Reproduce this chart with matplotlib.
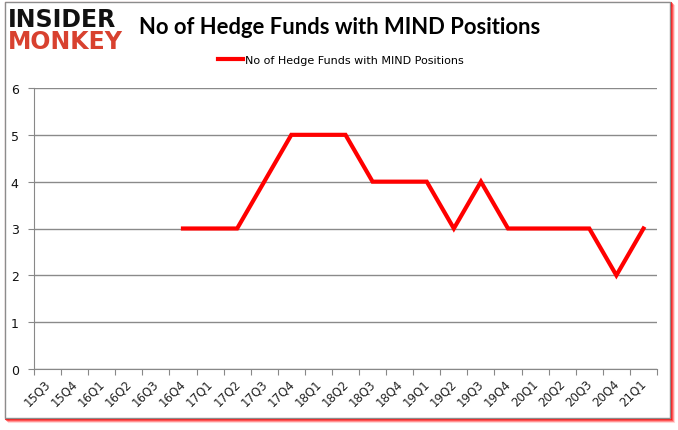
import numpy as np
import matplotlib.pyplot as plt
import matplotlib.transforms as mtransforms
from matplotlib.patches import Rectangle

quarters = ['15Q3', '15Q4', '16Q1', '16Q2', '16Q3', '16Q4', '17Q1', '17Q2',
            '17Q3', '17Q4', '18Q1', '18Q2', '18Q3', '18Q4', '19Q1', '19Q2',
            '19Q3', '19Q4', '20Q1', '20Q2', '20Q3', '20Q4', '21Q1']
# no data before 16Q4
hedge_funds = [None, None, None, None, None, 3, 3, 3,
               4, 5, 5, 5, 4, 4, 4, 3,
               4, 3, 3, 3, 3, 2, 3]
series_name = 'No of Hedge Funds with MIND Positions'
chart_title = 'No of Hedge Funds with MIND Positions'

W, H = 678, 431
fig = plt.figure(figsize=(W / 100, H / 100), dpi=100)

# frame with red drop shadow
for i, a in enumerate([0.15, 0.3, 0.5, 0.8]):
    off = 4 - i
    fig.patches.append(Rectangle(((5 + off) / W, 1 - (419 + off) / H),
                                 (665) / W, (416) / H,
                                 transform=fig.transFigure, facecolor='none',
                                 edgecolor=(1, 0, 0, a), lw=1.5, zorder=0))
fig.patches.append(Rectangle((5 / W, 1 - 419 / H), 665 / W, 416 / H,
                             transform=fig.transFigure, facecolor='white',
                             edgecolor='#8c8c8c', lw=1, zorder=1))

ax = fig.add_axes([34 / W, 1 - 370 / H, 623 / W, 281 / H])
ax.set_zorder(2)

x = np.arange(len(quarters)) + 0.5
y = np.array([np.nan if v is None else v for v in hedge_funds], dtype=float)
ax.plot(x, y, color='#ff0000', lw=3, solid_joinstyle='miter',
        label=series_name)

ax.set_xlim(0, len(quarters))
ax.set_ylim(0, 6)
ax.set_yticks(range(7))
ax.set_xticks(np.arange(len(quarters) + 1))
ax.set_xticklabels([])

# category labels, rotated like the Excel original
lbl_tr = ax.get_xaxis_transform() + mtransforms.ScaledTranslation(
    1 / 100, -12 / 100, fig.dpi_scale_trans)
for xi, q in zip(x, quarters):
    ax.text(xi, 0, q, transform=lbl_tr, rotation=45, ha='right', va='center',
            rotation_mode='anchor', fontsize=8.5, color='#222222',
            family='DejaVu Sans', clip_on=False)

ax.tick_params(axis='x', length=4, color='#888888')
ax.tick_params(axis='y', length=4, color='#888888', labelsize=9,
               labelcolor='#111111', pad=7)
ax.grid(axis='y', color='#8a8a8a', lw=1)
ax.set_axisbelow(True)
for s in ['top', 'right']:
    ax.spines[s].set_visible(False)
for s in ['left', 'bottom']:
    ax.spines[s].set_color('#888888')

fig.text(340 / W, 1 - 27 / H, chart_title, ha='center', va='center',
         fontsize=15.8, fontweight='bold', family='Lato', zorder=3)
ax.legend(loc='center', bbox_to_anchor=(341 / W, 1 - 61 / H),
          bbox_transform=fig.transFigure, frameon=False,
          handlelength=2.2, handletextpad=0.2,
          prop={'family': 'DejaVu Sans', 'size': 8})

# logo
fig.text(8 / W, 1 - 20 / H, 'INSIDER', ha='left', va='center', fontsize=17,
         fontweight='black', family='DejaVu Sans', color='#111111', zorder=3)
fig.text(8 / W, 1 - 42 / H, 'MONKEY', ha='left', va='center', fontsize=17,
         fontweight='black', family='DejaVu Sans', color='#d8412f', zorder=3)

fig.savefig('out.png', dpi=100)
